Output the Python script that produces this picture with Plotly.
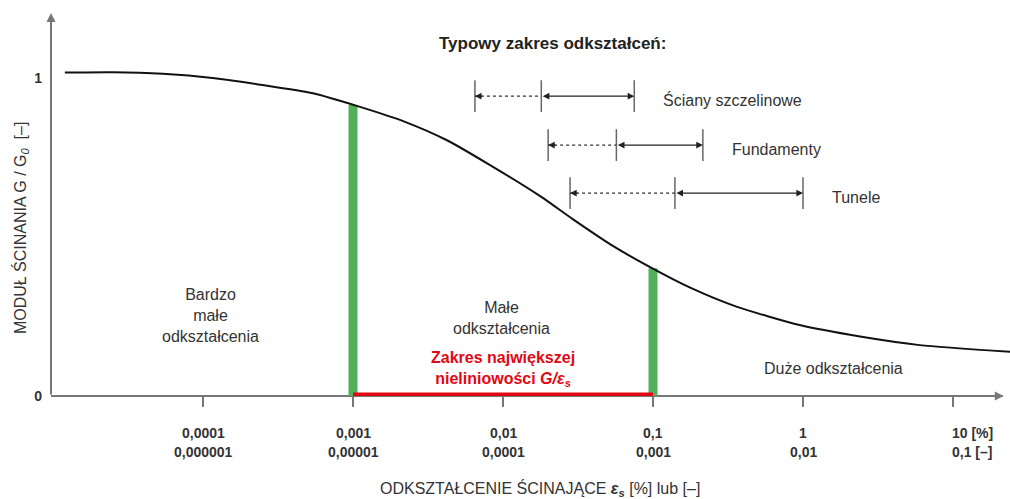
import math
import plotly.graph_objects as go

# Shear modulus degradation curve: shear strain [%] vs. G/G0
strain_pct = [1.2e-5, 2.5e-5, 5.4e-5, 1.2e-4, 2.5e-4, 5.4e-4, 1.1e-3, 2.2e-3, 4.2e-3,
              8.2e-3, 0.018, 0.029, 0.054, 0.095, 0.18, 0.36, 0.95, 2.4, 6.0, 24.0]
g_ratio = [1.017, 1.018, 1.013, 0.999, 0.978, 0.952, 0.910, 0.863, 0.805,
           0.726, 0.626, 0.557, 0.472, 0.406, 0.339, 0.281, 0.223, 0.187, 0.160, 0.139]

# Bounds of the range of strongest non-linearity (green bars) and curve value there
nonlin_strain = [0.001, 0.1]
nonlin_g = [0.915, 0.402]

# Typical strain ranges: (start of dashed part, start of solid part, end) in [%]
range_names = ["Ściany szczelinowe", "Fundamenty", "Tunele"]
range_start = [0.0065, 0.020, 0.028]
range_mid = [0.018, 0.057, 0.14]
range_end = [0.075, 0.215, 1.0]
range_level = [0.943, 0.789, 0.638]

# Axis ticks: strain in [%] (upper row) and [-] (lower row)
tick_strain = [1e-4, 1e-3, 1e-2, 1e-1, 1, 10]
tick_pct = ["0,0001", "0,001", "0,01", "0,1", "1", "10 [%]"]
tick_frac = ["0,000001", "0,00001", "0,0001", "0,001", "0,01", "0,1 [–]"]

FONT = "Liberation Sans, Arial, sans-serif"
TXT = "#333333"
AXC = "#777777"
GREEN = "#52b05a"
RED = "#e30613"

X_RANGE = [-5.0133, 1.38]
Y_RANGE = [0, 1.2044]

fig = go.Figure()

# green boundary bars
for s, g in zip(nonlin_strain, nonlin_g):
    fig.add_trace(go.Scatter(x=[s, s], y=[0, g], mode="lines",
                             line=dict(color=GREEN, width=9), hoverinfo="skip"))

# red range on the strain axis
fig.add_trace(go.Scatter(x=nonlin_strain, y=[0.004, 0.004], mode="lines",
                         line=dict(color=RED, width=4.5), hoverinfo="skip"))

# degradation curve
fig.add_trace(go.Scatter(x=strain_pct, y=g_ratio, mode="lines",
                         line=dict(color="#111111", width=2, shape="spline", smoothing=0.6),
                         hoverinfo="skip"))

# typical strain ranges
TICK_H = 0.05
for name, a, b, c, lv in zip(range_names, range_start, range_mid, range_end, range_level):
    # end / split ticks
    fig.add_trace(go.Scatter(x=[a, a, None, b, b, None, c, c],
                             y=[lv - TICK_H, lv + TICK_H, None, lv - TICK_H, lv + TICK_H, None,
                                lv - TICK_H, lv + TICK_H],
                             mode="lines", line=dict(color="#666666", width=1.5),
                             hoverinfo="skip"))
    # dashed part
    fig.add_trace(go.Scatter(x=[a, b], y=[lv, lv], mode="lines",
                             line=dict(color="#333333", width=1.2, dash="3px,3px"),
                             hoverinfo="skip"))
    # arrowhead of dashed part
    fig.add_annotation(x=math.log10(a), y=lv, xref="x", yref="y", ax=9, ay=0,
                       text="", showarrow=True, arrowhead=2, arrowsize=1.1,
                       arrowwidth=1.2, arrowcolor="#222222", standoff=0)
    # solid part with arrowheads at both ends
    fig.add_annotation(x=math.log10(c), y=lv, xref="x", yref="y",
                       ax=math.log10(b), ay=lv, axref="x", ayref="y",
                       text="", showarrow=True, arrowhead=2, startarrowhead=2,
                       arrowside="end+start", arrowsize=1.1, startarrowsize=1.1,
                       arrowwidth=1.2, arrowcolor="#222222", standoff=0, startstandoff=0)
    fig.add_annotation(x=math.log10(c), y=lv, xref="x", yref="y", text=name,
                       showarrow=False, xanchor="left", yanchor="middle",
                       xshift=27, yshift=-4, font=dict(size=16, color=TXT))

# axis lines with arrows
fig.add_shape(type="line", xref="paper", yref="paper", x0=0, x1=0.9925, y0=0, y1=0,
              line=dict(color=AXC, width=2), layer="below")
fig.add_annotation(xref="paper", yref="paper", x=0.9935, y=0, ax=-12, ay=0, text="",
                   showarrow=True, arrowhead=2, arrowsize=0.9, arrowwidth=2,
                   arrowcolor=AXC, standoff=0)
fig.add_annotation(xref="paper", yref="paper", x=0, y=1, ax=0, ay=383, text="",
                   showarrow=True, arrowhead=2, arrowsize=0.9, arrowwidth=2,
                   arrowcolor=AXC, standoff=0)

# two-row tick labels (paper y, below the plot area)
for s, p, f in zip(tick_strain, tick_pct, tick_frac):
    last = "[" in p
    for txt, yv in ((p, -0.0966), (f, -0.1462)):
        fig.add_annotation(x=math.log10(s), y=yv, xref="x", yref="paper",
                           text=f"<b>{txt}</b>", showarrow=False,
                           xanchor="left" if last else "center", yanchor="middle",
                           xshift=-3 if last else 0,
                           font=dict(size=14, color=TXT))

# region labels
fig.add_annotation(x=-1.673, y=1.107, xref="x", yref="y",
                   text="<b>Typowy zakres odkształceń:</b>", showarrow=False,
                   font=dict(size=17, color="#222222"))
fig.add_annotation(x=-3.953, y=0.2516, xref="x", yref="y",
                   text="Bardzo<br>małe<br>odkształcenia", showarrow=False,
                   font=dict(size=16, color=TXT))
fig.add_annotation(x=-2.007, y=0.245, xref="x", yref="y",
                   text="Małe<br>odkształcenia", showarrow=False,
                   font=dict(size=16, color=TXT))
fig.add_annotation(x=-2.0, y=0.085, xref="x", yref="y",
                   text="<b>Zakres największej<br>nieliniowości <i>G/ε<sub>s</sub></i></b>",
                   showarrow=False, font=dict(size=16, color=RED))
fig.add_annotation(x=0.2, y=0.085, xref="x", yref="y",
                   text="Duże odkształcenia", showarrow=False,
                   font=dict(size=16, color=TXT))

# axis titles
fig.add_annotation(x=-1.753, y=-0.2428, xref="x", yref="paper",
                   text="ODKSZTAŁCENIE ŚCINAJĄCE <b><i>ε<sub>s</sub></i></b> [%] lub [–]",
                   showarrow=False, yanchor="middle", font=dict(size=16, color=TXT))
fig.add_annotation(x=-0.0344, y=0.528, xref="paper", yref="y", textangle=-90,
                   xshift=-9,
                   text="MODUŁ ŚCINANIA G / G<sub><i>0</i></sub>  [–]",
                   showarrow=False, font=dict(size=16, color=TXT))

fig.update_layout(
    width=1010, height=499,
    margin=dict(l=51, r=0, t=13, b=103),
    paper_bgcolor="white", plot_bgcolor="white",
    showlegend=False,
    font=dict(family=FONT, size=14, color=TXT),
    xaxis=dict(type="log", range=X_RANGE, showgrid=False, zeroline=False,
               showline=False, tickvals=tick_strain, showticklabels=False,
               ticks="outside", ticklen=10, tickwidth=1.5, tickcolor=AXC),
    yaxis=dict(range=Y_RANGE, showgrid=False, zeroline=False, showline=False,
               tickvals=[0, 1], ticktext=["<b>0</b>", "<b>1</b>"], ticks="",
               ticklabelstandoff=8, tickfont=dict(size=14, color=TXT)),
)

fig.write_html("out.html")
